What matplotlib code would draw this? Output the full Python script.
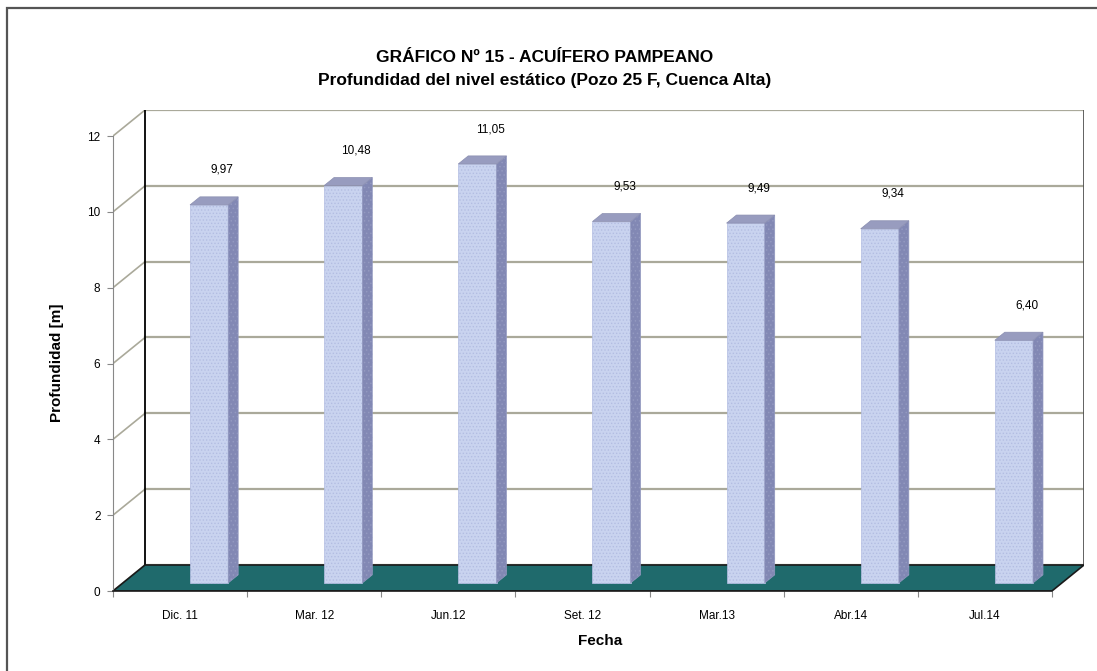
import matplotlib.pyplot as plt
from matplotlib.patches import Polygon, Rectangle

plt.rcParams['font.family'] = ['Liberation Sans', 'DejaVu Sans']
plt.rcParams['hatch.linewidth'] = 0.6

# datos
fechas = ['Dic. 11', 'Mar. 12', 'Jun.12', 'Set. 12', 'Mar.13', 'Abr.14', 'Jul.14']
profundidad = [9.97, 10.48, 11.05, 9.53, 9.49, 9.34, 6.40]
etiquetas = ['9,97', '10,48', '11,05', '9,53', '9,49', '9,34', '6,40']
y_ticks = [0, 2, 4, 6, 8, 10, 12]

# geometria del efecto 3D (unidades de datos)
DX = 0.239     # profundidad total en x (categorias)
DY = 0.686     # profundidad total en y (metros)
T0, T1 = 0.31, 0.62   # profundidad de la cara frontal / trasera de la barra
BAR_LEFT, BAR_W = 0.50, 0.285

c_front = '#c9d3ef'
c_side = '#8288b4'
c_top = '#989cbf'
c_floor = '#1f6a6c'
c_grid = '#aaa99a'

fig = plt.figure(figsize=(10.97, 6.71), dpi=100)
ax = fig.add_axes([113 / 1097, 1 - 591 / 671, 971 / 1097, 481 / 671])

n = len(fechas)
ax.set_xlim(0, n + DX)
ax.set_ylim(0, 12 + DY)

# pared trasera y lateral
for v in y_ticks:
    ax.plot([DX, n + DX], [v + DY, v + DY], color=c_grid, lw=1.6, zorder=1)
    ax.plot([0, DX], [v, v + DY], color=c_grid, lw=1.2, zorder=1)
ax.plot([DX, DX], [DY, 12 + DY], color='black', lw=1.3, zorder=2)
ax.plot([n + DX, n + DX], [DY, 12 + DY], color='#555555', lw=1.3, zorder=2)

# piso
floor = Polygon([(0, 0), (n, 0), (n + DX, DY), (DX, DY)], closed=True,
                facecolor=c_floor, edgecolor='#1a1a1a', lw=1.2, zorder=2)
ax.add_patch(floor)

# barras
for i, v in enumerate(profundidad):
    x0 = i + BAR_LEFT + T0 * DX
    y0 = T0 * DY
    ddx = (T1 - T0) * DX
    ddy = (T1 - T0) * DY
    ax.bar(x0, v, width=BAR_W, bottom=y0, align='edge', color=c_front,
           edgecolor='#b3bde2', hatch='.....', lw=0.5, zorder=4)
    side = Polygon([(x0 + BAR_W, y0), (x0 + BAR_W + ddx, y0 + ddy),
                    (x0 + BAR_W + ddx, y0 + ddy + v), (x0 + BAR_W, y0 + v)],
                   closed=True, facecolor=c_side, edgecolor='#9399c0',
                   hatch='....', lw=0.5, zorder=4)
    top = Polygon([(x0, y0 + v), (x0 + BAR_W, y0 + v),
                   (x0 + BAR_W + ddx, y0 + ddy + v), (x0 + ddx, y0 + ddy + v)],
                  closed=True, facecolor=c_top, edgecolor='#8a8eb0', lw=0.5, zorder=4)
    ax.add_patch(side)
    ax.add_patch(top)
    ax.text(x0 + BAR_W / 2 + 0.097, v + y0 + ddy + 0.55, etiquetas[i],
            ha='center', va='bottom', fontsize=8.5, zorder=5)

# ejes
for s in ['top', 'right']:
    ax.spines[s].set_visible(False)
ax.spines['left'].set_bounds(0, 12)
ax.spines['left'].set_color('#888888')
ax.spines['bottom'].set_bounds(0, n)
ax.spines['bottom'].set_color('#1a1a1a')
ax.spines['bottom'].set_linewidth(1.2)

ax.set_yticks(y_ticks)
ax.set_yticklabels([str(t) for t in y_ticks], fontsize=8.5)
ax.tick_params(axis='y', length=4, color='#888888', pad=5)

ax.set_xticks(range(n + 1))
ax.set_xticklabels([''] * (n + 1))
ax.set_xticks([i + 0.5 for i in range(n)], minor=True)
ax.set_xticklabels(fechas, minor=True, fontsize=8.5)
ax.tick_params(axis='x', which='major', length=4, color='#888888')
ax.tick_params(axis='x', which='minor', length=0, pad=14)

fig.text(600 / 1097, 1 - 641 / 671, 'Fecha', ha='center', va='center',
         fontsize=11, fontweight='bold')
fig.text(57 / 1097, 1 - 363 / 671, 'Profundidad [m]', ha='center', va='center',
         rotation=90, fontsize=11, fontweight='bold')

fig.text(545 / 1097, 1 - 58 / 671, 'GRÁFICO Nº 15 - ACUÍFERO PAMPEANO',
         ha='center', va='center', fontsize=12.5, fontweight='bold')
fig.text(545 / 1097, 1 - 80 / 671, 'Profundidad del nivel estático (Pozo 25 F, Cuenca Alta)',
         ha='center', va='center', fontsize=12.5, fontweight='bold')

# marco exterior
fig.add_artist(Rectangle((7 / 1097, -0.1), 1.2, 1.1 - 8 / 671,
                         transform=fig.transFigure, fill=False,
                         edgecolor='#555555', lw=1.6))

fig.savefig('out.png', dpi=100)
